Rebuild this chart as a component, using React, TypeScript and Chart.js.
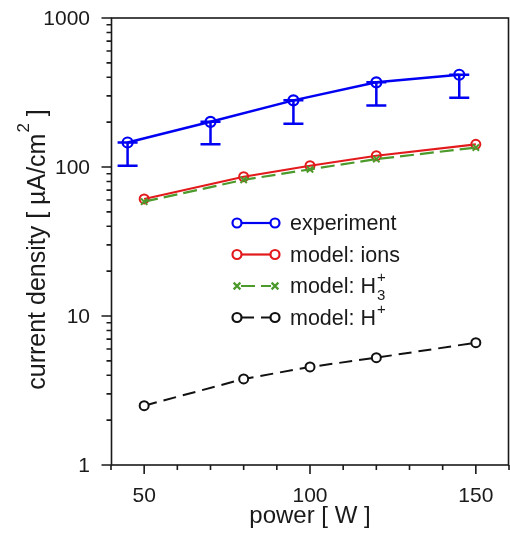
import React, { useEffect, useRef } from 'react';
import { Chart, registerables } from 'chart.js';

Chart.register(...registerables);

// ---- data ----
const expPower = [45, 70, 95, 120, 145];
const expCurrent = [146, 201, 280, 370, 416];
const expLower = [102, 142, 195, 259, 292];

const modelPower = [50, 80, 100, 120, 150];
const ionsCurrent = [61, 86, 102, 119, 142];
const h3Current = [58.5, 82, 96.5, 113, 135];
const hCurrent = [2.5, 3.78, 4.55, 5.25, 6.62];

const xTickLabels = [50, 100, 150];
const yTickLabels = [1, 10, 100, 1000];
const xRange = [40, 160];
const yRange = [1, 1000];

const FONT = '"Liberation Sans", Arial, Helvetica, sans-serif';
const INK = '#1a1a1a';
const BLUE = '#0000f2';
const RED = '#e31a1c';
const GREEN = '#4b9a2b';
const BLACK = '#111111';

type LegendItem = {
  base: string;
  sub?: string;
  sup?: string;
  color: string;
  dash: number[];
  marker: 'circle' | 'cross';
};

const legendItems: LegendItem[] = [
  { base: 'experiment', color: BLUE, dash: [], marker: 'circle' },
  { base: 'model: ions', color: RED, dash: [], marker: 'circle' },
  { base: 'model: H', sub: '3', sup: '+', color: GREEN, dash: [14, 6], marker: 'cross' },
  { base: 'model: H', sup: '+', color: BLACK, dash: [13, 7], marker: 'circle' },
];

function drawMarker(ctx: CanvasRenderingContext2D, kind: string, x: number, y: number, r: number) {
  ctx.beginPath();
  if (kind === 'circle') {
    ctx.arc(x, y, r, 0, Math.PI * 2);
    ctx.fillStyle = '#ffffff';
    ctx.fill();
    ctx.stroke();
  } else {
    const d = r * 0.75;
    ctx.moveTo(x - d, y - d);
    ctx.lineTo(x + d, y + d);
    ctx.moveTo(x + d, y - d);
    ctx.lineTo(x - d, y + d);
    ctx.stroke();
  }
}

const decorPlugin = {
  id: 'decor',
  beforeDatasetsDraw(chart: any) {
    const ctx: CanvasRenderingContext2D = chart.ctx;
    const xs = chart.scales.x;
    const ys = chart.scales.y;
    ctx.save();
    ctx.strokeStyle = BLUE;
    ctx.lineWidth = 2.5;
    ctx.setLineDash([]);
    for (let i = 0; i < expPower.length; i++) {
      const x = xs.getPixelForValue(expPower[i]);
      const y1 = ys.getPixelForValue(expCurrent[i]);
      const y2 = ys.getPixelForValue(expLower[i]);
      ctx.beginPath();
      ctx.moveTo(x, y1);
      ctx.lineTo(x, y2);
      ctx.moveTo(x - 10, y1);
      ctx.lineTo(x + 10, y1);
      ctx.moveTo(x - 10, y2);
      ctx.lineTo(x + 10, y2);
      ctx.stroke();
    }
    ctx.restore();
  },
  afterDraw(chart: any) {
    const ctx: CanvasRenderingContext2D = chart.ctx;
    const xs = chart.scales.x;
    const ys = chart.scales.y;
    const a = chart.chartArea;
    ctx.save();
    // frame
    ctx.strokeStyle = INK;
    ctx.lineWidth = 1.6;
    ctx.setLineDash([]);
    ctx.strokeRect(a.left + 0.5, a.top, a.right - a.left - 1, a.bottom - a.top);
    // y ticks (outward, left)
    ctx.beginPath();
    for (let d = yRange[0]; d < yRange[1]; d *= 10) {
      for (let m = 1; m <= 9; m++) {
        const y = ys.getPixelForValue(d * m);
        const len = m === 1 ? 10 : 5;
        ctx.moveTo(a.left + 0.5, y);
        ctx.lineTo(a.left + 0.5 - len, y);
      }
    }
    const yTop = ys.getPixelForValue(yRange[1]);
    ctx.moveTo(a.left + 0.5, yTop);
    ctx.lineTo(a.left + 0.5 - 10, yTop);
    // x ticks (outward, below)
    for (let v = xRange[0]; v <= xRange[1]; v += 10) {
      const x = xs.getPixelForValue(v);
      const len = xTickLabels.includes(v) ? 9 : 5;
      ctx.moveTo(x, a.bottom);
      ctx.lineTo(x, a.bottom + len);
    }
    ctx.stroke();

    // tick labels
    ctx.fillStyle = INK;
    ctx.font = `21px ${FONT}`;
    ctx.textAlign = 'right';
    ctx.textBaseline = 'middle';
    yTickLabels.forEach((v) => {
      ctx.fillText(String(v), a.left - 21, ys.getPixelForValue(v) + 1);
    });
    ctx.textAlign = 'center';
    ctx.textBaseline = 'alphabetic';
    xTickLabels.forEach((v) => {
      ctx.fillText(String(v), xs.getPixelForValue(v), a.bottom + 37);
    });

    // axis titles
    ctx.font = `24px ${FONT}`;
    ctx.textAlign = 'center';
    ctx.fillText('power [ W ]', (a.left + a.right) / 2, 523);

    ctx.save();
    ctx.translate(45, 250);
    ctx.rotate(-Math.PI / 2);
    ctx.textAlign = 'left';
    const t1 = 'current density [ µA/cm';
    const t2 = '2';
    const t3 = ' ]';
    ctx.font = `25px ${FONT}`;
    const w1 = ctx.measureText(t1).width;
    const w3 = ctx.measureText(t3).width;
    ctx.font = `17px ${FONT}`;
    const w2 = ctx.measureText(t2).width;
    const start = -(w1 + w2 + w3) / 2;
    ctx.font = `25px ${FONT}`;
    ctx.fillText(t1, start, 0);
    ctx.font = `17px ${FONT}`;
    ctx.fillText(t2, start + w1 + 1, -16);
    ctx.font = `25px ${FONT}`;
    ctx.fillText(t3, start + w1 + w2 + 1, 0);
    ctx.restore();

    // legend
    const lx1 = 237;
    const lx2 = 275;
    const tx = 290;
    legendItems.forEach((it, i) => {
      const y = 223 + i * 31.5;
      ctx.strokeStyle = it.color;
      ctx.lineWidth = 2.2;
      ctx.setLineDash(it.dash);
      ctx.beginPath();
      ctx.moveTo(lx1 + 4, y);
      ctx.lineTo(lx2 - 4, y);
      ctx.stroke();
      ctx.setLineDash([]);
      drawMarker(ctx, it.marker, lx1, y, 4.5);
      drawMarker(ctx, it.marker, lx2, y, 4.5);
      ctx.fillStyle = INK;
      ctx.textAlign = 'left';
      ctx.font = `21.5px ${FONT}`;
      const by = y + 7;
      ctx.fillText(it.base, tx, by);
      const wb = ctx.measureText(it.base).width;
      ctx.font = `15px ${FONT}`;
      if (it.sup) ctx.fillText(it.sup, tx + wb + 1, by - 11);
      if (it.sub) ctx.fillText(it.sub, tx + wb + 1, by + 7);
    });
    ctx.restore();
  },
};

export default function App() {
  const ref = useRef<HTMLCanvasElement | null>(null);

  useEffect(() => {
    document.body.style.margin = '0';
    const canvas = ref.current;
    if (!canvas) return;
    const pts = (xs: number[], ys: number[]) => xs.map((x, i) => ({ x, y: ys[i] }));
    const chart = new Chart(canvas, {
      type: 'line',
      data: {
        datasets: [
          {
            label: 'model: H+',
            data: pts(modelPower, hCurrent),
            borderColor: BLACK,
            borderWidth: 2,
            borderDash: [13, 7],
            pointStyle: 'circle',
            pointRadius: 4.5,
            pointBorderWidth: 2,
            pointBorderColor: BLACK,
            pointBackgroundColor: '#ffffff',
          },
          {
            label: 'model: H3+',
            data: pts(modelPower, h3Current),
            borderColor: GREEN,
            borderWidth: 2.2,
            borderDash: [14, 6],
            pointStyle: 'crossRot',
            pointRadius: 4.5,
            pointBorderWidth: 2,
            pointBorderColor: GREEN,
          },
          {
            label: 'model: ions',
            data: pts(modelPower, ionsCurrent),
            borderColor: RED,
            borderWidth: 2.2,
            pointStyle: 'circle',
            pointRadius: 4.5,
            pointBorderWidth: 2,
            pointBorderColor: RED,
            pointBackgroundColor: 'rgba(255,255,255,0)',
          },
          {
            label: 'experiment',
            data: pts(expPower, expCurrent),
            borderColor: BLUE,
            borderWidth: 2.5,
            pointStyle: 'circle',
            pointRadius: 5,
            pointBorderWidth: 2.2,
            pointBorderColor: BLUE,
            pointBackgroundColor: 'rgba(255,255,255,0)',
          },
        ],
      },
      options: {
        responsive: false,
        animation: false,
        events: [],
        layout: { autoPadding: false, padding: { top: 18, right: 1, left: 0, bottom: 0 } },
        plugins: { legend: { display: false }, tooltip: { enabled: false } },
        scales: {
          x: {
            type: 'linear',
            min: xRange[0],
            max: xRange[1],
            grid: { display: false, drawTicks: false, tickLength: 0 },
            border: { display: false },
            ticks: { display: false },
            afterFit: (s: any) => {
              s.height = 70;
            },
          },
          y: {
            type: 'logarithmic',
            min: yRange[0],
            max: yRange[1],
            grid: { display: false, drawTicks: false, tickLength: 0 },
            border: { display: false },
            ticks: { display: false },
            afterFit: (s: any) => {
              s.width = 111;
            },
          },
        },
      },
      plugins: [decorPlugin],
    } as any);
    return () => chart.destroy();
  }, []);

  return (
    <div style={{ position: 'absolute', left: 0, top: 0, width: 510, height: 535 }}>
      <canvas ref={ref} width={510} height={535} />
    </div>
  );
}
